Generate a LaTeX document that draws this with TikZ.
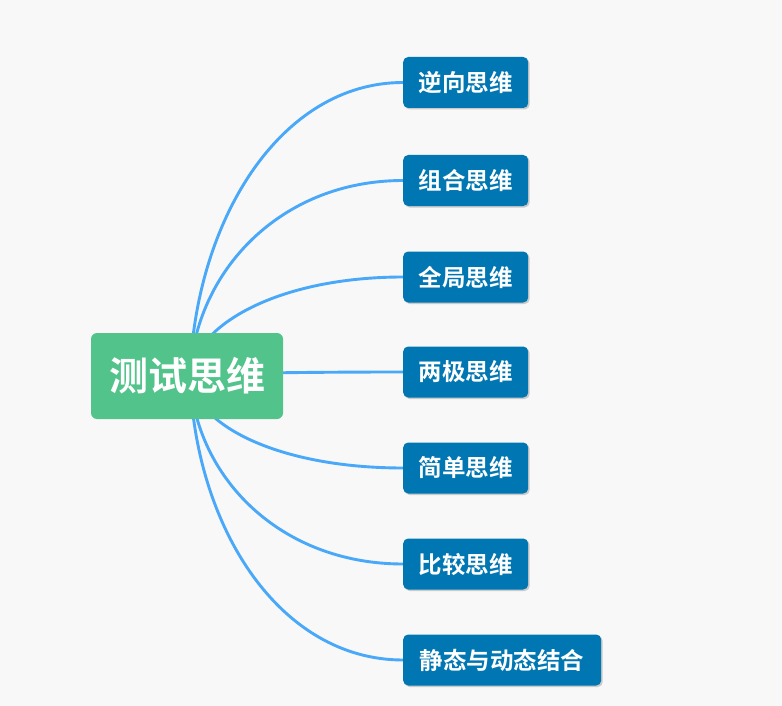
\documentclass[tikz,border=0pt]{standalone}
\usepackage{fontspec}
\newfontfamily\cjk{Noto Sans CJK SC}[BoldFont={Noto Sans CJK SC Bold}]
\usetikzlibrary{shadows}
\pgfdeclarelayer{bg}
\pgfsetlayers{bg,main}
\definecolor{pagebg}{HTML}{F8F8F8}
\definecolor{rootgreen}{HTML}{52C48B}
\definecolor{childblue}{HTML}{0076B2}
\definecolor{linkblue}{HTML}{4AA8F8}
\newcommand{\lowered}[1]{\raisebox{-4pt}{#1}}
\tikzset{
  rootbox/.style={fill=rootgreen, rounded corners=6pt, minimum width=192pt, minimum height=86pt,
    inner sep=0pt, text=white, font=\cjk\bfseries\fontsize{39}{39}\selectfont},
  childbox/.style={fill=childblue, rounded corners=5pt, minimum height=51pt, inner sep=0pt,
    text=white, font=\cjk\bfseries\fontsize{23.5}{24}\selectfont, anchor=west,
    drop shadow={opacity=0.18, shadow xshift=1.5pt, shadow yshift=-1.5pt, fill=black}},
  link/.style={draw=linkblue, line width=2.9pt}
}
\begin{document}
\begin{tikzpicture}[x=1pt,y=-1pt]
\useasboundingbox (0,0) rectangle (782,706);
\node[rootbox] (root) at (187,376) {\raisebox{-2pt}{测试思维}};
\coordinate (o) at (190,376);
\node[childbox, minimum width=125pt] (c1) at (403,82.5) {\lowered{逆向思维}};
\node[childbox, minimum width=125pt] (c2) at (403,180.5) {\lowered{组合思维}};
\node[childbox, minimum width=125pt] (c3) at (403,277) {\lowered{全局思维}};
\node[childbox, minimum width=125pt] (c4) at (403,372) {\lowered{两极思维}};
\node[childbox, minimum width=125pt] (c5) at (403,468) {\lowered{简单思维}};
\node[childbox, minimum width=125pt] (c6) at (403,564) {\lowered{比较思维}};
\node[childbox, minimum width=198pt] (c7) at (403,660) {\lowered{静态与动态结合}};
\begin{pgfonlayer}{bg}
\fill[pagebg] (0,0) rectangle (782,706);
\draw[link] (o) .. controls (195,221) and (280,82.5) .. (c1.west);
\draw[link] (o) .. controls (195,272) and (280,180.5) .. (c2.west);
\draw[link] (o) .. controls (195,324) and (280,277) .. (c3.west);
\draw[link] (o) .. controls (195,374) and (280,372) .. (c4.west);
\draw[link] (o) .. controls (195,426) and (280,468) .. (c5.west);
\draw[link] (o) .. controls (195,477) and (280,564) .. (c6.west);
\draw[link] (o) .. controls (195,528) and (280,660) .. (c7.west);
\end{pgfonlayer}
\end{tikzpicture}
\end{document}
